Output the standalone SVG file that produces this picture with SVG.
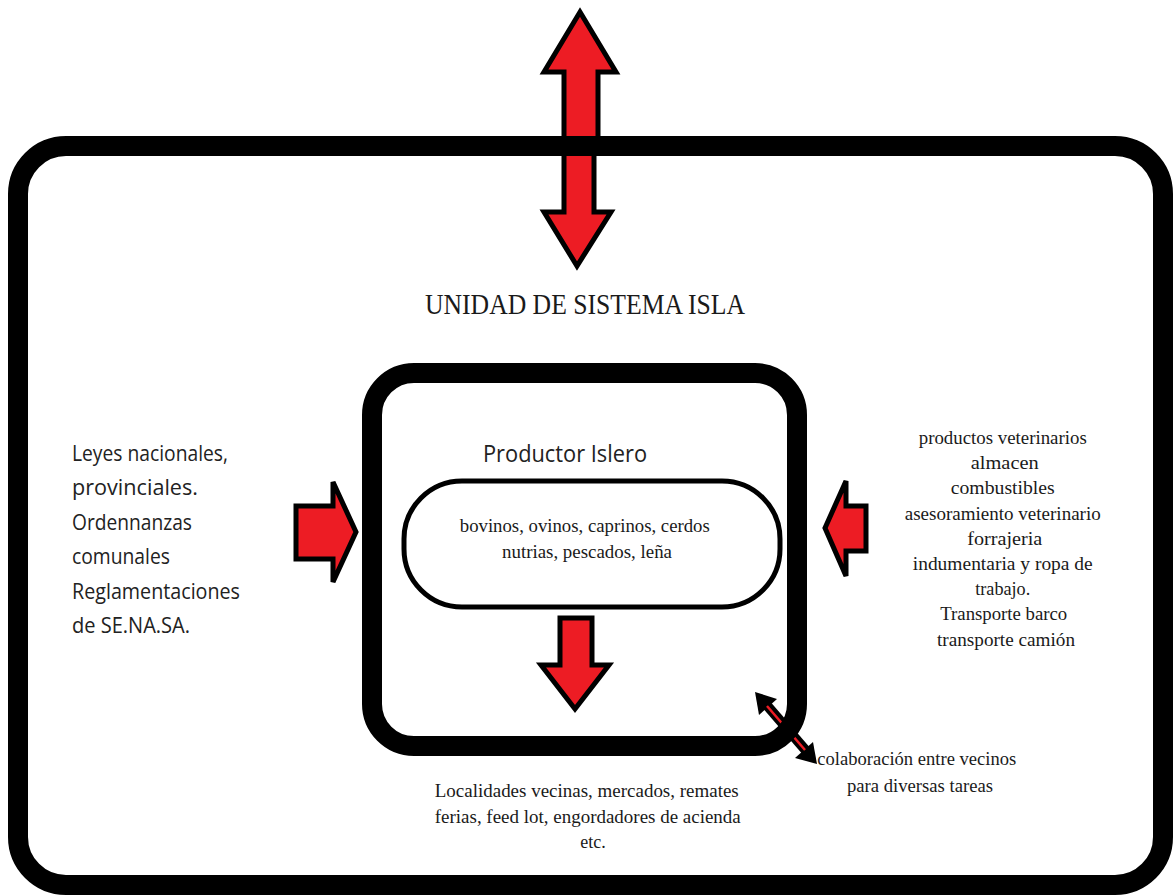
<svg xmlns="http://www.w3.org/2000/svg" width="1174" height="895" viewBox="0 0 1174 895">
<style>
.box{fill:none;stroke:#000;stroke-width:20}
.arr{fill:#ed1c24;stroke:#000;stroke-width:5;stroke-linejoin:miter}
.serif{font-family:"Liberation Serif","DejaVu Serif",serif;fill:#1a1a1a}
.sans{font-family:"Open Sans","Liberation Sans",sans-serif;fill:#222}
</style>
<rect width="1174" height="895" fill="#fff"/>
<g id="connectors">
<polygon class="arr" points="580,12 616,72 598,72 598,140 564,140 564,72 544,72"/>
<polygon class="arr" points="564,152 594,152 594,212 611,212 577,266 544,212 564,212"/>
<polygon class="arr" stroke-width="6" points="296,506 333,506 333,482 356,532 333,582 333,559 296,559"/>
<polygon class="arr" stroke-width="6" fill="#ee3a43" points="825,528 846,481 846,506 866,506 866,551 846,551 846,576"/>
<polygon class="arr" stroke-width="6" points="560,618 592,618 592,665 609,665 575,709 541,665 560,665"/>
<g id="diag">
<line x1="764" y1="702" x2="808" y2="753" stroke="#000" stroke-width="10"/>
<polygon points="755,692 777,699 759,715" fill="#000"/>
<polygon points="817,764 813,742 795,758" fill="#000"/>
<line x1="767" y1="706" x2="805" y2="750" stroke="#ed1c24" stroke-width="2.5"/>
</g>
</g>
<g id="outer">
<rect class="box" x="18" y="146" width="1145" height="739" rx="48"/>
<text class="serif" x="585" y="314" font-size="30" text-anchor="middle" textLength="320" lengthAdjust="spacingAndGlyphs">UNIDAD DE SISTEMA ISLA</text>
</g>
<g id="productor">
<rect class="box" x="372" y="373" width="425" height="373" rx="42"/>
<text class="sans" x="565" y="462" font-size="24" text-anchor="middle" textLength="164" lengthAdjust="spacingAndGlyphs">Productor Islero</text>
</g>
<g id="productos">
<rect x="404" y="481" width="376" height="126" rx="58" fill="none" stroke="#000" stroke-width="5"/>
<text class="serif" font-size="18" text-anchor="middle">
<tspan x="587" y="532" textLength="250" lengthAdjust="spacingAndGlyphs">bovinos, ovinos, caprinos, cerdos</tspan>
<tspan x="587" y="558" textLength="170" lengthAdjust="spacingAndGlyphs">nutrias, pescados, leña</tspan>
</text>
</g>
<g id="leyes">
<text class="sans" font-size="21" x="72" y="461" textLength="156" lengthAdjust="spacingAndGlyphs">Leyes nacionales,</text>
<text class="sans" font-size="21" x="72" y="495" textLength="126" lengthAdjust="spacingAndGlyphs">provinciales.</text>
<text class="sans" font-size="21" x="72" y="530" textLength="120" lengthAdjust="spacingAndGlyphs">Ordennanzas</text>
<text class="sans" font-size="21" x="72" y="564" textLength="98" lengthAdjust="spacingAndGlyphs">comunales</text>
<text class="sans" font-size="21" x="72" y="599" textLength="168" lengthAdjust="spacingAndGlyphs">Reglamentaciones</text>
<text class="sans" font-size="21" x="72" y="633" textLength="118" lengthAdjust="spacingAndGlyphs">de SE.NA.SA.</text>
</g>
<g id="insumos">
<text class="serif" font-size="18" text-anchor="middle">
<tspan x="1005" y="444" textLength="168" lengthAdjust="spacingAndGlyphs">productos veterinarios</tspan>
<tspan x="1007" y="469" textLength="68" lengthAdjust="spacingAndGlyphs">almacen</tspan>
<tspan x="1005" y="494" textLength="104" lengthAdjust="spacingAndGlyphs">combustibles</tspan>
<tspan x="1005" y="520" textLength="196" lengthAdjust="spacingAndGlyphs">asesoramiento veterinario</tspan>
<tspan x="1007" y="545" textLength="75" lengthAdjust="spacingAndGlyphs">forrajeria</tspan>
<tspan x="1005" y="570" textLength="180" lengthAdjust="spacingAndGlyphs">indumentaria y ropa de</tspan>
<tspan x="1005" y="595" textLength="55" lengthAdjust="spacingAndGlyphs">trabajo.</tspan>
<tspan x="1006" y="620" textLength="127" lengthAdjust="spacingAndGlyphs">Transporte barco</tspan>
<tspan x="1006" y="646" textLength="138" lengthAdjust="spacingAndGlyphs">transporte camión</tspan>
</text>
</g>
<g id="localidades">
<text class="serif" font-size="18" text-anchor="middle">
<tspan x="589" y="797" textLength="304" lengthAdjust="spacingAndGlyphs">Localidades vecinas, mercados, remates</tspan>
<tspan x="590" y="823" textLength="306" lengthAdjust="spacingAndGlyphs">ferias, feed lot, engordadores de acienda</tspan>
<tspan x="593" y="848">etc.</tspan>
</text>
</g>
<g id="colaboracion">
<text class="serif" font-size="18" text-anchor="middle">
<tspan x="919" y="765" textLength="199" lengthAdjust="spacingAndGlyphs">colaboración entre vecinos</tspan>
<tspan x="920" y="792" textLength="146" lengthAdjust="spacingAndGlyphs">para diversas tareas</tspan>
</text>
</g>
</svg>
